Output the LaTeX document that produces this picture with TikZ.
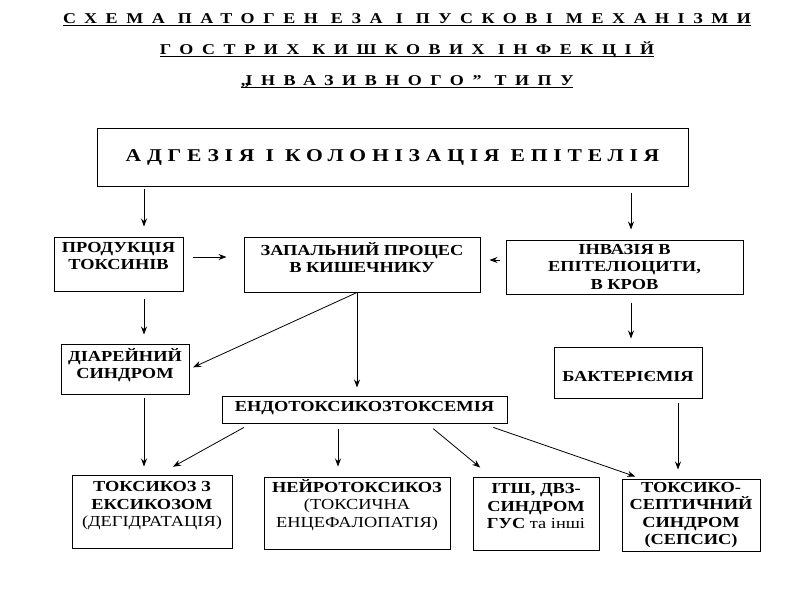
\documentclass[tikz,border=0pt]{standalone}
\usepackage{fontspec}
\setmainfont{Liberation Serif}[FakeStretch=1.2]
\newfontfamily\titlefont[LetterSpace=57, FakeStretch=1.2]{Liberation Serif}
\newfontfamily\headfont[LetterSpace=32, FakeStretch=1.2]{Liberation Serif}
\usetikzlibrary{arrows.meta}

\newcommand{\inbox}[4]{\parbox[c][#2pt][c]{#1pt}{\centering #4\par\vspace{#3pt}}}
\newcommand{\uline}[1]{\setbox0\hbox{#1}\rlap{\rule[-3.2pt]{\wd0}{1.6pt}}\box0}

\tikzset{
  box/.style={draw, line width=1pt, inner sep=0pt, font=\fontsize{15.3}{17.5}\selectfont\bfseries},
  arr/.style={line width=0.8pt, -{Stealth[length=8pt,width=6pt]}, shorten <=4pt, shorten >=9pt},
  title/.style={anchor=base, inner sep=0pt, font=\fontsize{15}{17}\titlefont\bfseries},
}

\begin{document}
\begin{tikzpicture}[x=1pt, y=-1pt]
\useasboundingbox (0,0) rectangle (800,600);

% title
\node[title] (t1) at (407,23) {\uline{СХЕМА ПАТОГЕН ЕЗА І ПУСКОВІ МЕХАНІЗМИ}};
\node[title] (t2) at (407,54) {\uline{ГОСТРИХ КИШКОВИХ ІНФЕКЦІЙ}};
\node[title] (t3) at (407,85) {\uline{„\kern-4ptІНВАЗИВНОГО” ТИПУ}};

\begin{scope}[every node/.style={box}]
  \node (top)   at (392.5,157) {\inbox{591}{58}{0}{\headfont\fontsize{18}{20}\selectfont АДГЕЗІЯ І КОЛОНІЗАЦІЯ ЕПІТЕЛІЯ}};
  \node (prod)  at (118.5,264) {\inbox{129}{54}{16}{ПРОДУКЦІЯ\\ТОКСИНІВ}};
  \node (zap)   at (362,264.5) {\inbox{236}{55}{14}{ЗАПАЛЬНИЙ ПРОЦЕС\\В КИШЕЧНИКУ}};
  \node (inv)   at (624.5,267) {\inbox{237}{54}{0}{ІНВАЗІЯ В\\ЕПІТЕЛІОЦИТИ,\\В КРОВ}};
  \node (dia)   at (125,369)   {\inbox{128}{50}{8}{ДІАРЕЙНИЙ\\СИНДРОМ}};
  \node (endo)  at (364.5,409.5) {\inbox{285}{27}{2}{ЕНДОТОКСИКОЗТОКСЕМІЯ}};
  \node (bakt)  at (628,372.5) {\inbox{148}{51}{-8}{БАКТЕРІЄМІЯ}};
  \node (tox)   at (152,511.5) {\inbox{160}{73}{11}{ТОКСИКОЗ З\\ЕКСИКОЗОМ\\\mdseries(ДЕГІДРАТАЦІЯ)}};
  \node (neuro) at (357,513)   {\inbox{186}{72}{16}{НЕЙРОТОКСИКОЗ\\\mdseries(ТОКСИЧНА\\ЕНЦЕФАЛОПАТІЯ)}};
  \node (itsh)  at (536,513.5) {\inbox{126}{73}{15}{ІТШ, ДВЗ-\\СИНДРОМ\\ГУС {\mdseries та інші}}};
  \node (sept)  at (691,515)   {\inbox{138}{72}{0}{ТОКСИКО-\\СЕПТИЧНИЙ\\СИНДРОМ\\(СЕПСИС)}};
\end{scope}

\draw[arr, shorten <=2pt, shorten >=10pt] (top.south -| 144,0) -- (prod.north -| 144,0);
\draw[arr, shorten <=6pt, shorten >=10pt] (top.south -| 631,0) -- (inv.north -| 631,0);
\draw[arr, shorten <=9pt, shorten >=17pt] (prod.east |- 0,257) -- (zap.west |- 0,257);
\draw[arr, shorten <=6pt, shorten >=9pt] (inv.west |- 0,260) -- (zap.east |- 0,260);
\draw[arr, shorten <=7pt] (prod.south -| 144,0) -- (dia.north -| 144,0);
\draw[arr, shorten <=0pt, shorten >=4pt] (zap.south -| 357,0) -- (dia.east |- 0,369);
\draw[arr, shorten <=0pt, shorten >=8pt] (zap.south -| 357,0) -- (endo.north -| 357,0);
\draw[arr, shorten <=8pt, shorten >=8pt] (inv.south -| 631,0) -- (bakt.north -| 631,0);
\draw[arr, shorten <=3pt, shorten >=8pt] (dia.south -| 144,0) -- (tox.north -| 144,0);
\draw[arr, shorten <=8pt, shorten >=16pt] (endo.south -| 251,0) -- (tox.north -| 159,0);
\draw[arr, shorten <=5pt, shorten >=10pt] (endo.south -| 338,0) -- (neuro.north -| 338,0);
\draw[arr, shorten <=8pt, shorten >=14pt] (endo.south -| 427,0) -- (itsh.north -| 491,0);
\draw[arr, shorten <=12pt, shorten >=6pt] (endo.south -| 482,0) -- (sept.north -| 641,0);
\draw[arr] (bakt.south -| 678,0) -- (sept.north -| 678,0);

\end{tikzpicture}
\end{document}
